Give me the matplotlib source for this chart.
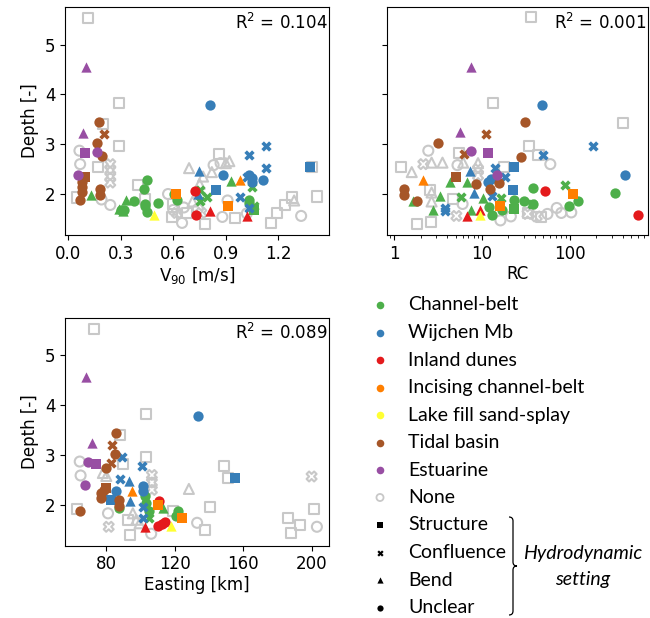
import matplotlib
matplotlib.use("Agg")
import matplotlib.pyplot as plt
from matplotlib.path import Path
from matplotlib.patches import PathPatch
from matplotlib.ticker import FuncFormatter, NullFormatter

# legend categories (geological unit) and Set1-like colours
unit_codes = ['CB', 'WM', 'ID', 'IC', 'LF', 'TB', 'ES', 'NO']
unit_labels = ['Channel-belt', 'Wijchen Mb', 'Inland dunes', 'Incising channel-belt',
               'Lake fill sand-splay', 'Tidal basin', 'Estuarine', 'None']
unit_colors = ['#4daf4a', '#377eb8', '#e41a1c', '#ff7f00', '#ffff33', '#a65628', '#984ea3', '#c8c8c8']

# hydrodynamic setting
set_codes = ['S', 'C', 'B', 'U']
set_labels = ['Structure', 'Confluence', 'Bend', 'Unclear']
set_markers = ['s', 'X', '^', 'o']

r2_values = ['0.104', '0.001', '0.089']

# ---- panel 1: V90 vs depth ----
v90 = [0.115, 0.29, 0.29, 0.20, 0.17, 0.40, 0.86, 0.44, 0.59, 0.78, 0.95, 1.16, 1.19, 1.24, 1.28, 1.42, 1.39, 0.05, 0.60, 0.68,
       0.064, 0.068, 0.19, 0.24, 0.57, 0.60, 0.65, 0.66, 0.83, 0.91, 0.88, 1.33, 1.02, 0.87, 0.74,
       0.69, 0.77, 0.82, 0.92, 1.29, 0.71, 0.90, 0.75,
       0.24, 0.24, 0.24, 0.24, 0.62, 0.76,
       0.10, 0.087, 0.098, 0.163, 0.053,
       0.176, 0.167, 0.195, 0.08, 0.08, 0.08, 0.068, 0.18, 0.18, 0.206, 0.093,
       0.13, 0.29, 0.33, 0.93, 0.31,
       0.30, 0.32, 0.375, 0.43, 0.45, 0.44, 0.45, 0.51, 0.605, 0.62, 1.03, 1.03, 0.44,
       0.75, 0.75, 0.79, 1.05, 1.06, 1.06,
       0.617, 0.91, 0.98,
       0.49,
       0.725, 0.73, 0.81, 1.02,
       0.81, 0.886, 1.03, 1.05, 1.05, 1.11, 0.747, 0.74, 0.845, 1.38, 1.03, 1.13, 1.13, 0.98, 1.03, 1.02]
v90_depth = [5.54, 3.83, 2.97, 3.41, 2.54, 2.19, 2.80, 1.89, 1.54, 1.40, 1.51, 1.42, 1.61, 1.77, 1.93, 1.95, 2.54, 1.93, 1.80, 1.62,
             2.87, 2.60, 1.89, 1.78, 2.00, 1.68, 1.42, 1.73, 2.58, 1.87, 1.54, 1.56, 1.61, 2.62, 1.70,
             2.52, 2.35, 2.44, 2.66, 1.87, 1.85, 2.62, 2.20,
             2.60, 2.48, 2.35, 2.23, 1.62, 1.62,
             4.56, 3.23, 2.82, 2.85, 2.38,
             3.44, 3.02, 2.77, 2.25, 2.15, 2.05, 1.88, 2.11, 1.98, 3.21, 2.35,
             1.98, 1.70, 1.88, 2.26, 1.66,
             1.68, 1.68, 1.86, 2.11, 2.28, 1.80, 1.64, 1.81, 2.01, 1.87, 1.88, 1.82, 1.76,
             2.08, 1.85, 1.93, 2.15, 1.75, 1.68,
             2.00, 1.75, 2.28,
             1.58,
             2.07, 1.58, 1.66, 1.56,
             3.78, 2.38, 2.38, 2.32, 2.25, 2.28, 2.47, 2.00, 2.08, 2.54, 2.79, 2.97, 2.52, 1.95, 1.71, 2.35]
v90_kind = (['NO/S'] * 20 + ['NO/U'] * 15 + ['NO/B'] * 8 + ['NO/C'] * 6
            + ['ES/B'] * 2 + ['ES/S'] + ['ES/U'] * 2
            + ['TB/U'] * 9 + ['TB/C'] + ['TB/S']
            + ['CB/B'] * 5 + ['CB/U'] * 13 + ['CB/C'] * 5 + ['CB/S']
            + ['IC/S'] * 2 + ['IC/B'] + ['LF/B']
            + ['ID/U'] * 2 + ['ID/B'] * 2
            + ['WM/U'] * 6 + ['WM/B'] * 2 + ['WM/S'] * 2 + ['WM/C'] * 6)

# ---- panel 2: RC vs depth ----
rc = [36, 13.3, 400, 34, 1.19, 2.55, 4.7, 1.8, 2.6, 5.4, 18, 44, 33, 47,
      2.44, 5.25, 60, 21.3, 16.2, 55.6, 71, 104, 6.0, 80,
      2.66, 3.54, 1.58, 6.1, 9, 2.66, 2.66,
      2.14, 9, 9, 5.1, 33, 42,
      7.55, 5.56, 11.7, 7.4, 14.7,
      30.8, 3.17, 27.8, 8.6, 12.2, 15.8, 1.3, 1.3, 1.8, 11, 6.3, 5.1,
      1.65, 2.78, 3.3, 4.3, 6.7, 7.5, 10.3,
      5.8, 88, 16.5, 37,
      38.3, 23.3, 30.3, 37.7, 125, 98, 325, 13, 17, 12,
      23.3,
      2.14, 16.1, 109,
      9.6,
      52, 600, 6.8, 9.4,
      48, 422, 11.7, 12.5, 183, 49.8, 13.9, 18.5, 3.76, 3.76, 13, 23.3, 22.7, 7.2, 8.1]
rc_depth = [5.55, 3.83, 3.42, 2.97, 2.55, 2.09, 1.90, 1.39, 1.43, 2.82, 2.55, 2.78, 1.61, 1.53,
            2.87, 2.58, 2.60, 1.55, 1.47, 1.60, 1.72, 1.63, 1.80, 1.62,
            2.63, 2.63, 2.44, 2.63, 2.62, 2.03, 1.85,
            2.60, 2.50, 2.37, 1.56, 1.60, 1.55,
            4.56, 3.24, 2.82, 2.87, 2.38,
            3.44, 3.02, 2.74, 2.20, 2.11, 2.22, 2.11, 1.98, 1.86, 3.21, 2.80, 2.34,
            1.85, 1.67, 1.96, 2.25, 2.25, 1.68, 1.91,
            1.93, 2.18, 1.92, 1.80,
            2.12, 1.88, 1.85, 1.80, 1.86, 1.76, 2.02, 1.57, 1.67, 1.73,
            1.70,
            2.28, 1.75, 2.01,
            1.58,
            2.07, 1.58, 1.55, 1.67,
            3.78, 2.38, 2.25, 2.30, 2.97, 2.78, 2.52, 2.35, 1.72, 1.65, 1.96, 2.55, 2.09, 2.46, 2.03]
rc_kind = (['NO/S'] * 14 + ['NO/U'] * 10 + ['NO/B'] * 7 + ['NO/C'] * 6
           + ['ES/B'] * 2 + ['ES/S'] + ['ES/U'] * 2
           + ['TB/U'] * 9 + ['TB/C'] * 2 + ['TB/S']
           + ['CB/B'] * 7 + ['CB/C'] * 4 + ['CB/U'] * 10 + ['CB/S']
           + ['IC/B'] + ['IC/S'] * 2 + ['LF/B']
           + ['ID/U'] * 2 + ['ID/B'] * 2
           + ['WM/U'] * 4 + ['WM/C'] * 7 + ['WM/S'] * 2 + ['WM/B'] * 2)

# ---- panel 3: Easting vs depth ----
easting = [72.8, 103.3, 103.3, 87.8, 89.7, 148.9, 150.9, 140.6, 92.6, 93.6, 137.7, 62.9, 186.2, 187.8, 193.2, 201.4, 118.8,
           64.5, 65, 81, 133, 202.9, 106.2,
           81.4, 199.8, 106.6, 106.6, 106.6,
           78, 128.2, 95.5, 97.5, 99.4, 80,
           68.3, 71.7, 73.8, 69.3, 67.8,
           64.5, 85.8, 84.9, 79.6, 77.1, 77.1, 78.5, 87.4, 87.4, 83.5, 82.9, 79.6,
           102.3, 103.3, 105.2, 121.7, 120.4, 87.4, 113, 105.2,
           95.1, 110, 124.3,
           117.9,
           110.5, 110, 112.5, 114, 102.3,
           133.6, 85.8, 101.4, 101.4, 155.1, 82.5, 89.1, 101, 87.8, 101.7, 101.7, 93.2, 93.6]
east_depth = [5.54, 3.83, 2.96, 3.41, 2.82, 2.79, 2.54, 1.95, 1.70, 1.40, 1.50, 1.92, 1.74, 1.43, 1.60, 1.92, 1.87,
              2.87, 2.59, 1.83, 1.64, 1.56, 1.42,
              1.56, 2.57, 2.60, 2.45, 2.30,
              2.64, 2.32, 1.83, 1.70, 1.63, 2.58,
              4.57, 3.24, 2.82, 2.87, 2.39,
              1.87, 3.44, 3.02, 2.74, 2.23, 2.13, 2.30, 2.10, 1.97, 3.21, 2.84, 2.34,
              2.17, 2.03, 1.87, 1.87, 1.77, 1.93, 1.93, 1.73,
              2.27, 2.00, 1.73,
              1.58,
              2.07, 1.58, 1.62, 1.65, 1.55,
              3.78, 2.28, 2.37, 2.27, 2.54, 2.10, 2.97, 2.79, 2.52, 1.95, 1.73, 2.47, 2.07]
east_kind = (['NO/S'] * 17 + ['NO/U'] * 6 + ['NO/C'] * 5 + ['NO/B'] * 6
             + ['ES/B'] * 2 + ['ES/S'] + ['ES/U'] * 2
             + ['TB/U'] * 9 + ['TB/C'] * 2 + ['TB/S']
             + ['CB/U'] * 6 + ['CB/B'] + ['CB/C']
             + ['IC/B'] + ['IC/S'] * 2 + ['LF/B']
             + ['ID/U'] * 4 + ['ID/B']
             + ['WM/U'] * 4 + ['WM/S'] * 2 + ['WM/C'] * 5 + ['WM/B'] * 2)

for xs, ys, ks in [(v90, v90_depth, v90_kind), (rc, rc_depth, rc_kind), (easting, east_depth, east_kind)]:
    assert len(xs) == len(ys) == len(ks), (len(xs), len(ys), len(ks))


def scatter_panel(ax, xs, ys, kinds):
    order = ['NO'] + [u for u in unit_codes if u != 'NO']
    for u in order:
        col = unit_colors[unit_codes.index(u)]
        for s, m in zip(set_codes, set_markers):
            pts = [(x, y) for x, y, k in zip(xs, ys, kinds) if k == u + '/' + s]
            if not pts:
                continue
            px, py = zip(*pts)
            if u == 'NO':
                ax.scatter(px, py, s=52, marker=m, facecolors='none', edgecolors=col,
                           linewidths=1.5, zorder=2)
            else:
                ax.scatter(px, py, s=55, marker=m, color=col, linewidths=0, zorder=3)


plt.rcParams['font.size'] = 12
fig = plt.figure(figsize=(6.5, 6.18), dpi=100)

ax1 = fig.add_axes([0.1, 0.62, 0.406, 0.369])
ax2 = fig.add_axes([0.595, 0.62, 0.402, 0.369])
ax3 = fig.add_axes([0.1, 0.117, 0.406, 0.369])

scatter_panel(ax1, v90, v90_depth, v90_kind)
scatter_panel(ax2, rc, rc_depth, rc_kind)
scatter_panel(ax3, easting, east_depth, east_kind)

ax2.set_xscale('log')
ax2.set_xlim(0.82, 780)
ax2.xaxis.set_major_formatter(FuncFormatter(lambda v, p: '{:g}'.format(v)))
ax2.xaxis.set_minor_formatter(NullFormatter())
ax1.set_xticks([0.0, 0.3, 0.6, 0.9, 1.2])
ax3.set_xticks([80, 120, 160, 200])

for ax, r2 in zip([ax1, ax2, ax3], r2_values):
    ax.set_ylim(1.18, 5.76)
    ax.set_yticks([2, 3, 4, 5])
    ax.tick_params(labelsize=12)
    ax.text(0.995, 0.975, 'R$^2$ = ' + r2, transform=ax.transAxes, ha='right', va='top', fontsize=12)

ax1.set_xlabel('V$_{90}$ [m/s]', labelpad=2)
ax2.set_xlabel('RC', labelpad=2)
ax3.set_xlabel('Easting [km]', labelpad=2)
ax1.set_ylabel('Depth [-]')
ax3.set_ylabel('Depth [-]')
ax2.set_yticklabels([])

# ---- legend drawn in pixel coordinates ----
lax = fig.add_axes([360 / 650, 0, 290 / 650, 318 / 618])
lax.set_xlim(360, 650)
lax.set_ylim(618, 300)
lax.axis('off')
lfont = dict(family='Lato', fontsize=14, va='center', ha='left')

row_y = 305
for lab, col in zip(unit_labels, unit_colors):
    if col == '#c8c8c8':
        lax.scatter([380], [row_y], s=26, marker='o', facecolors='none', edgecolors=col, linewidths=1.3)
    else:
        lax.scatter([380], [row_y], s=30, marker='o', color=col, linewidths=0)
    lax.text(408, row_y, lab, **lfont)
    row_y += 27.5
for lab, m in zip(set_labels, set_markers):
    lax.scatter([380], [row_y], s=20, marker=m, color='black', linewidths=0)
    lax.text(408, row_y, lab, **lfont)
    row_y += 27.5

# curly brace for hydrodynamic setting
verts = [(509, 517), (513, 517), (513, 521), (513, 562), (513, 566), (517, 566),
         (513, 566), (513, 570), (513, 611), (513, 615), (509, 615)]
codes = [Path.MOVETO, Path.CURVE3, Path.CURVE3, Path.LINETO, Path.CURVE3, Path.CURVE3,
         Path.CURVE3, Path.CURVE3, Path.LINETO, Path.CURVE3, Path.CURVE3]
lax.add_patch(PathPatch(Path(verts, codes), facecolor='none', edgecolor='black', lw=0.9))
lax.text(583, 554, 'Hydrodynamic', family='Lato', style='italic', fontsize=14, ha='center', va='center')
lax.text(583, 580, 'setting', family='Lato', style='italic', fontsize=14, ha='center', va='center')

fig.savefig('out.png', dpi=100)
